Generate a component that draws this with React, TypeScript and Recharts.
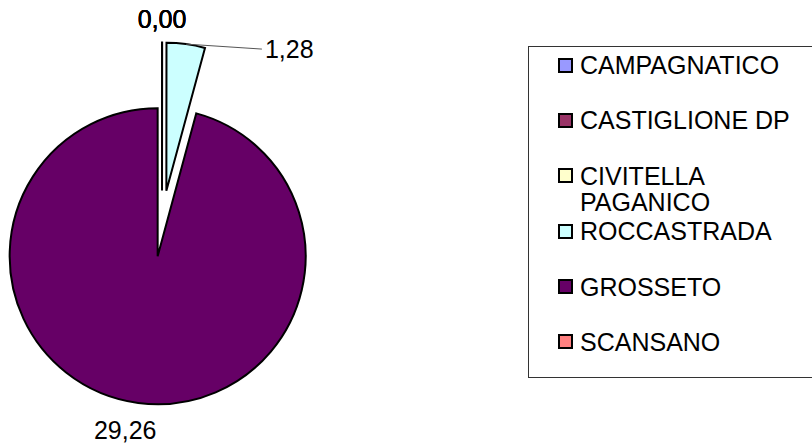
import React from "react";
import { PieChart, Pie, Cell, Legend } from "recharts";

// ── Data ───────────────────────────────────────────────────────────────────
const comuni = ["CAMPAGNATICO", "CASTIGLIONE DP", "CIVITELLA PAGANICO", "ROCCASTRADA", "GROSSETO", "SCANSANO"];
const valori = [0, 0.004, 0, 1.28, 29.26, 0];
const colori = ["#9999FF", "#993366", "#FFFFCC", "#CCFFFF", "#660066", "#FF8080"];

const rows = comuni.map((name, i) => ({ name, value: valori[i] }));

// ── Layout ─────────────────────────────────────────────────────────────────
const W = 812;
const H = 446;
const CENTER = { x: 162, y: 223.5 };
const RADIUS = 148;
const EXPLODE = 33;
const FONT = "'Liberation Sans', Arial, sans-serif";
const RAD = Math.PI / 180;

const total = valori.reduce((a, b) => a + b, 0);

// mid angle of each slice in recharts convention (deg, ccw from 3 o'clock)
const midAngles = valori.map((v, i) => {
  const before = valori.slice(0, i).reduce((a, b) => a + b, 0);
  return 90 - (360 * (before + v / 2)) / total;
});

const fmt = (v: number) => v.toFixed(2).replace(".", ",");

// label placement relative to the slice's outer arc midpoint
function placement(index: number) {
  if (index === 3) return { dx: 79, dy: 5, anchor: "start", leader: true };
  if (index === 4) return { dx: -13, dy: 27, anchor: "middle", leader: false };
  return { dx: 0, dy: -23.5, anchor: "middle", leader: false };
}

function makeLabel(own: number) {
  return (p: any) => {
    if (p.index !== own) return null;
    const ax = p.cx + p.outerRadius * Math.cos(-p.midAngle * RAD);
    const ay = p.cy + p.outerRadius * Math.sin(-p.midAngle * RAD);
    const pl = placement(own);
    return (
      <g key={`lbl-${own}`}>
        {pl.leader && (
          <line x1={ax} y1={ay} x2={ax + pl.dx - 3} y2={ay + pl.dy} stroke="#555" strokeWidth={1} />
        )}
        <text
          x={ax + pl.dx}
          y={ay + pl.dy}
          textAnchor={pl.anchor as any}
          dominantBaseline="central"
          fontFamily={FONT}
          fontSize={25}
          fill="#000"
        >
          {fmt(valori[own])}
        </text>
      </g>
    );
  };
}

function LegendBox() {
  return (
    <div
      style={{
        boxSizing: "border-box",
        width: 300,
        height: 332,
        border: "1px solid #333",
        background: "#fff",
        paddingTop: 5,
        paddingLeft: 29,
        fontFamily: FONT,
        fontSize: 25,
        color: "#000",
      }}
    >
      {comuni.map((name, i) => (
        <div key={name} style={{ height: 55.4, display: "flex", alignItems: "flex-start" }}>
          <span
            style={{
              boxSizing: "border-box",
              width: 15,
              height: 15,
              marginTop: 5.5,
              marginRight: 7,
              flex: "none",
              background: colori[i],
              border: "2px solid #000",
            }}
          />
          <span style={{ lineHeight: "26px", maxWidth: 225, whiteSpace: "normal" }}>{name}</span>
        </div>
      ))}
    </div>
  );
}

export default function App() {
  return (
    <div style={{ position: "absolute", left: 0, top: 0, width: W, height: H, background: "#fff", overflow: "hidden" }}>
      <PieChart width={W} height={H} margin={{ top: 0, right: 0, bottom: 0, left: 0 }}>
        {rows.map((_, i) => (
          <Pie
            key={comuni[i]}
            data={rows}
            dataKey="value"
            nameKey="name"
            cx={CENTER.x + EXPLODE * Math.cos(midAngles[i] * RAD)}
            cy={CENTER.y - EXPLODE * Math.sin(midAngles[i] * RAD)}
            outerRadius={RADIUS}
            startAngle={90}
            endAngle={-270}
            isAnimationActive={false}
            labelLine={false}
            label={makeLabel(i)}
          >
            {rows.map((_, j) => (
              <Cell
                key={j}
                fill={j === i ? colori[j] : "none"}
                stroke={j === i ? "#000" : "none"}
                strokeWidth={2}
              />
            ))}
          </Pie>
        ))}
        <Legend
          layout="vertical"
          align="right"
          verticalAlign="top"
          content={() => <LegendBox />}
          wrapperStyle={{ left: 528, top: 46, width: 300, height: 332 }}
        />
      </PieChart>
    </div>
  );
}
